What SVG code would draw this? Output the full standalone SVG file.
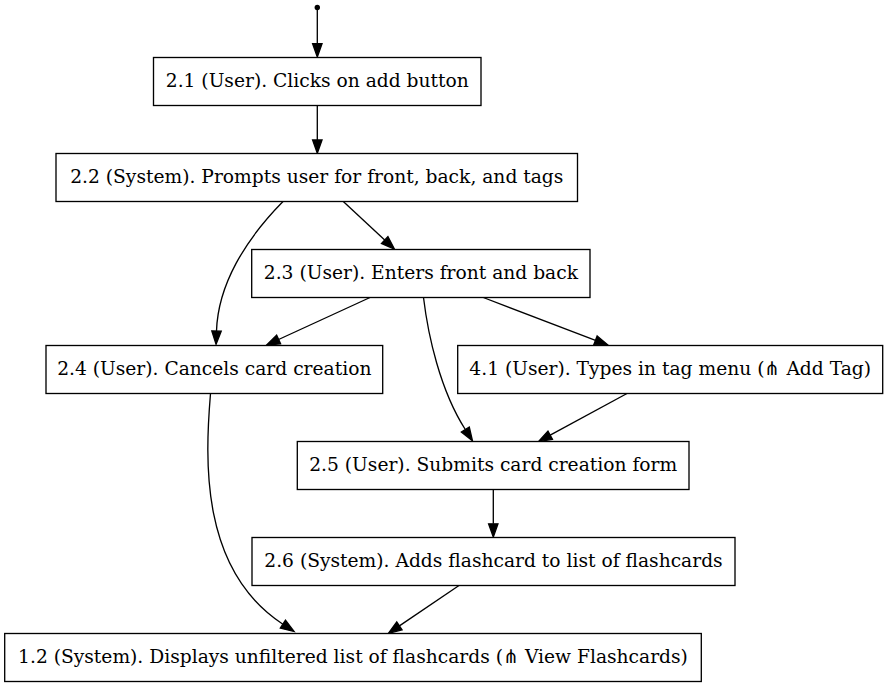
<svg xmlns="http://www.w3.org/2000/svg" width="889" height="687" viewBox="0 0 889 687">
<style>
.node rect{fill:#fff;stroke:#000;stroke-width:1.33}
.node text{font-family:"DejaVu Serif","Liberation Serif",serif;font-size:18.67px;fill:#000;text-anchor:middle}
.edges path{fill:none;stroke:#000;stroke-width:1.33;marker-end:url(#arr)}
</style>
<defs>
<marker id="arr" markerUnits="userSpaceOnUse" markerWidth="15" markerHeight="11" refX="0" refY="5.5" orient="auto" overflow="visible">
<path d="M0,0.8 L13.3,5.5 L0,10.2 z" fill="#000" stroke="#000" stroke-width="1.33"/>
</marker>
</defs>
<rect width="889" height="687" fill="#fff"/>
<g id="start"><circle cx="317.3" cy="7.5" r="2.7" fill="#000"/></g>
<g class="edges" id="edges">
<path d="M317.3,10 L317.3,43.7"/>
<path d="M317.3,105.5 L317.3,140"/>
<path d="M343.3,201.5 L384.7,240"/>
<path d="M283,201.5 C245,240 218,285 216.5,331"/>
<path d="M370,297.5 L278.6,339.5"/>
<path d="M483.3,297.5 L595.5,340.3"/>
<path d="M423.5,297.5 C428,335 440,390 465.3,429.5"/>
<path d="M627,393.5 L550.2,435.2"/>
<path d="M493.3,489.5 L493.3,523.8"/>
<path d="M210.5,393.5 C205,460 200,570 282.9,624.2"/>
<path d="M459,585.5 L399.4,625.9"/>
</g>
<g class="node" id="n2_1"><rect x="153.5" y="57.5" width="327.5" height="48"/><text x="317.3" y="87.3">2.1 (User). Clicks on add button</text></g>
<g class="node" id="n2_2"><rect x="56" y="153.5" width="521.5" height="48"/><text x="316.8" y="183.3">2.2 (System). Prompts user for front, back, and tags</text></g>
<g class="node" id="n2_3"><rect x="251.7" y="249.5" width="338.3" height="48"/><text x="420.9" y="279.3">2.3 (User). Enters front and back</text></g>
<g class="node" id="n2_4"><rect x="46" y="345.5" width="336.7" height="48"/><text x="214.3" y="375.3">2.4 (User). Cancels card creation</text></g>
<g class="node" id="n4_1"><rect x="457.7" y="345.5" width="425" height="48"/><text x="670.2" y="375.3">4.1 (User). Types in tag menu (⋔ Add Tag)</text></g>
<g class="node" id="n2_5"><rect x="297.3" y="441.5" width="391.7" height="48"/><text x="493.2" y="471.3">2.5 (User). Submits card creation form</text></g>
<g class="node" id="n2_6"><rect x="252" y="537.5" width="483" height="48"/><text x="493.5" y="567.3">2.6 (System). Adds flashcard to list of flashcards</text></g>
<g class="node" id="n1_2"><rect x="4.7" y="633.5" width="696.6" height="48"/><text x="353" y="663.3">1.2 (System). Displays unfiltered list of flashcards (⋔ View Flashcards)</text></g>
</svg>
